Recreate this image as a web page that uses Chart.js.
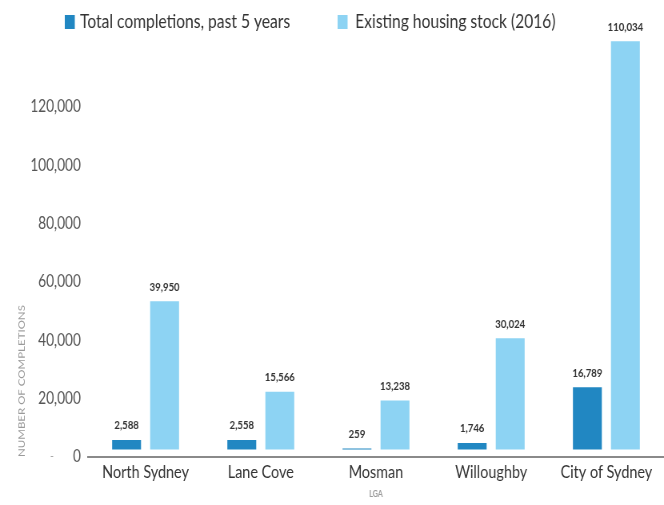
<!DOCTYPE html>
<html>
<head>
<meta charset="utf-8">
<script src="https://cdn.jsdelivr.net/npm/chart.js@4.4.1/dist/chart.umd.min.js"></script>
<style>
  html, body { margin: 0; padding: 0; background: #ffffff; }
  #wrap { width: 664px; height: 505px; overflow: hidden; }
  /* the drawing is made on a wider canvas and shown squeezed to 664px */
  #chart { width: 664px; height: 505px; display: block; }
</style>
</head>
<body>
<div id="wrap"><canvas id="chart" width="830" height="505" style="width:664px;height:505px"></canvas></div>
<script>
// Local government areas and their dwelling figures
const categories = ['North Sydney', 'Lane Cove', 'Mosman', 'Willoughby', 'City of Sydney'];
const completions = [2588, 2558, 259, 1746, 16789];
const housingStock = [39950, 15566, 13238, 30024, 110034];
const seriesNames = ['Total completions, past 5 years', 'Existing housing stock (2016)'];
const seriesColors = ['#2187c2', '#8dd3f3'];

// Printed scale on the left axis
const axisTickValues = [0, 20000, 40000, 60000, 80000, 100000, 120000];

const FONT = "Lato, 'Open Sans', sans-serif";
Chart.defaults.font.family = FONT;

const fmt = v => Number(v).toLocaleString('en-US');

// Number printed above every bar
const valueLabels = {
  id: 'valueLabels',
  afterDatasetsDraw(chart) {
    const { ctx } = chart;
    ctx.save();
    ctx.font = 'bold 12px ' + FONT;
    ctx.fillStyle = '#333333';
    ctx.textAlign = 'center';
    ctx.textBaseline = 'middle';
    chart.data.datasets.forEach((ds, i) => {
      chart.getDatasetMeta(i).data.forEach((bar, j) => {
        ctx.fillText(fmt(ds.data[j]), bar.x, bar.y - 14.5);
      });
    });
    ctx.restore();
  }
};

// Series key across the top
const topLegend = {
  id: 'topLegend',
  afterDraw(chart) {
    const { ctx } = chart;
    ctx.save();
    ctx.font = '19.5px ' + FONT;
    ctx.textBaseline = 'middle';
    ctx.textAlign = 'left';
    const cy = 22;
    const starts = [81, 422];
    chart.data.datasets.forEach((ds, i) => {
      const x = starts[i];
      ctx.fillStyle = ds.backgroundColor;
      ctx.fillRect(x, cy - 7, 12.5, 14);
      ctx.fillStyle = '#333333';
      ctx.fillText(ds.label, x + (i === 0 ? 19 : 22), cy);
    });
    // small dash beside the zero of the printed scale
    const ys = chart.scales.yTicks;
    ctx.font = '12px ' + FONT;
    ctx.fillStyle = '#9a9a9a';
    ctx.textAlign = 'center';
    ctx.fillText('-', 65, ys.getPixelForValue(0) - 1);
    ctx.restore();
  }
};

new Chart(document.getElementById('chart'), {
  type: 'bar',
  data: {
    labels: categories,
    datasets: [
      { label: seriesNames[0], data: completions, backgroundColor: seriesColors[0], yAxisID: 'y',
        barPercentage: 0.76, categoryPercentage: 0.66 },
      { label: seriesNames[1], data: housingStock, backgroundColor: seriesColors[1], yAxisID: 'y',
        barPercentage: 0.76, categoryPercentage: 0.66 }
    ]
  },
  options: {
    responsive: false,
    animation: false,
    devicePixelRatio: 1,
    layout: { padding: { top: 13, right: 0, bottom: 0, left: 0 } },
    plugins: { legend: { display: false }, tooltip: { enabled: false } },
    scales: {
      x: {
        type: 'category',
        offset: true,
        grid: { display: false, drawTicks: false },
        border: { display: true, color: '#8a8a8a', width: 2 },
        ticks: { padding: 4, color: '#333333', font: { size: 18 }, maxRotation: 0, minRotation: 0, autoSkip: false },
        title: { display: true, text: 'LGA', color: '#9a9a9a', font: { size: 9, weight: 'bold' },
                 padding: { top: 0, bottom: 6 } },
        afterFit(s) { s.height = 48; }
      },
      y: { display: false, min: -2000, max: 116000 },
      yTicks: {
        type: 'linear',
        position: 'left',
        min: 0,
        max: 150000,
        grid: { display: false, drawTicks: false },
        border: { display: false },
        afterBuildTicks(s) { s.ticks = axisTickValues.map(v => ({ value: v })); },
        ticks: { padding: 9, color: '#555555', font: { size: 17 }, callback: v => fmt(v) },
        title: { display: true, text: 'NUMBER OF COMPLETIONS', align: 'start', color: '#9a9a9a',
                 font: { size: 11.5 }, padding: { top: 20, bottom: 0 } },
        afterFit(s) { s.width = 110; }
      }
    }
  },
  plugins: [valueLabels, topLegend]
});
</script>
</body>
</html>
